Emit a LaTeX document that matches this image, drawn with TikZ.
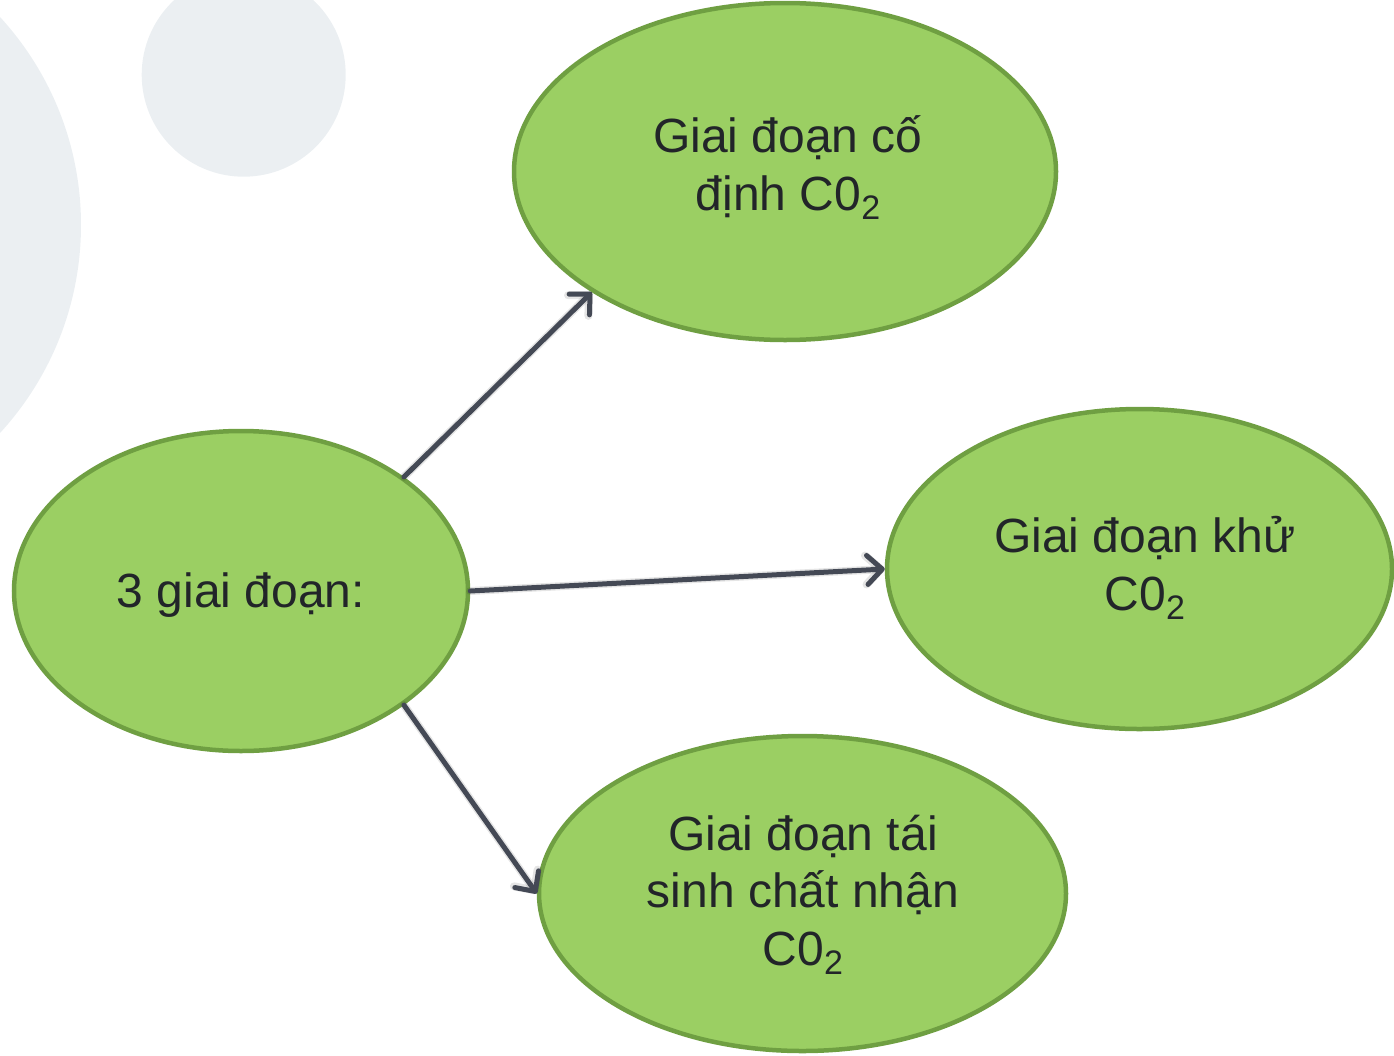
\documentclass[tikz,border=0pt]{standalone}
\usepackage{fontspec}
\setmainfont{Liberation Sans}
\usetikzlibrary{shapes.geometric,arrows.meta}

\definecolor{bgdisc}{HTML}{EBEFF2}
\definecolor{leaf}{HTML}{9BCF63}
\definecolor{leafedge}{HTML}{6F9F42}
\definecolor{inkdark}{HTML}{222529}
\definecolor{arrowgray}{HTML}{444955}

% lowered, smaller "2" for the CO2 formula
\newcommand\subtwo{\raisebox{-9pt}{\fontsize{34}{34}\selectfont 2}}

\begin{document}
\begin{tikzpicture}[x=1pt,y=-1pt,
  stage/.style={ellipse, draw=leafedge, fill=leaf, line width=4.5pt, inner sep=0pt},
  % multi-line labels are placed by the baseline of their last line
  stagetext/.style={text=inkdark, font=\fontsize{48}{57.5}\selectfont, align=center, anchor=base, inner sep=0pt},
  flow/.style={draw=arrowgray, line width=5pt, line cap=round,
    -{Straight Barb[length=15pt,width=29pt,round]}},
  flowshade/.style={draw=black, opacity=0.10, line width=8pt, line cap=round,
    -{Straight Barb[length=15pt,width=29pt,round]}},
]
\useasboundingbox (0,0) rectangle (1394,1055);
\clip (0,0) rectangle (1394,1055);

% pale decorative discs behind the diagram
\fill[bgdisc] (-226.6,225) circle[radius=307.6];
\fill[bgdisc] (243.7,74.7) circle[radius=102];

% the four stage ellipses
\node[stage, minimum width=454, minimum height=320] (start)  at (241,591)    {};
\node[stage, minimum width=542, minimum height=337] (fix)    at (785,171.5)  {};
\node[stage, minimum width=505, minimum height=320] (reduce) at (1139.5,569) {};
\node[stage, minimum width=527, minimum height=315] (regen)  at (802.5,893.5) {};

% labels
\node[stagetext] (start-text)  at (241,607)  {3 giai đoạn:};
\node[stagetext] (fix-text)    at (788,210)  {Giai đoạn cố\\định C0\subtwo};
\node[stagetext] (reduce-text) at (1145,610) {Giai đoạn khử\\C0\subtwo};
\node[stagetext] (regen-text)  at (803,965)  {Giai đoạn tái\\sinh chất nhận\\C0\subtwo};

% connectors, with a faint shadow underneath
\begin{scope}[shift={(1.5,3)}]
  \draw[flowshade] (start.35) -- (fix.212);
  \draw[flowshade] (start.0) -- (reduce.180);
  \draw[flowshade] (start.-35) -- (regen.180);
\end{scope}
\draw[flow] (start.35) -- (fix.212);
\draw[flow] (start.0) -- (reduce.180);
\draw[flow] (start.-35) -- (regen.180);
\end{tikzpicture}
\end{document}
